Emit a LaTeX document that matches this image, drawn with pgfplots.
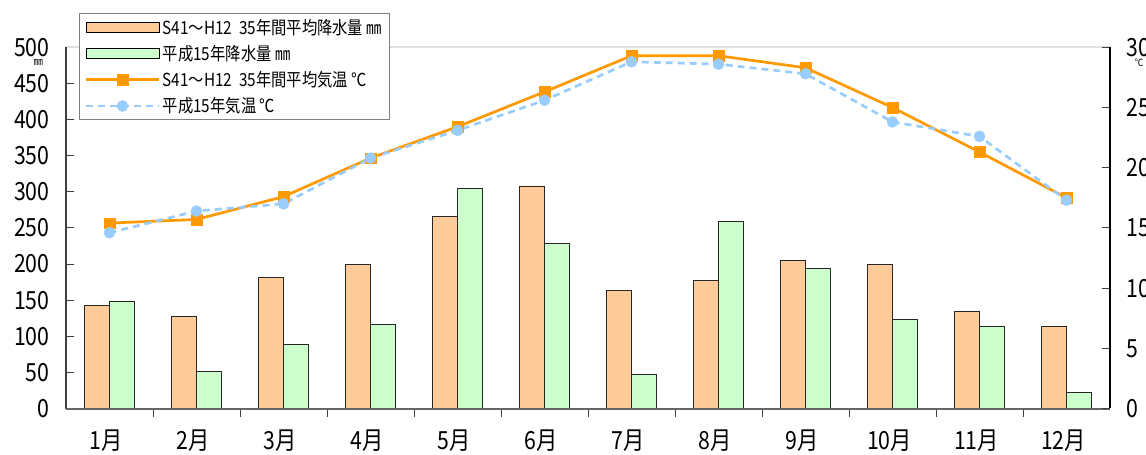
\documentclass[border=0pt]{standalone}
\usepackage{fontspec}
\setmainfont{Noto Sans CJK JP}[FakeStretch=0.85]
\usepackage{pgfplots}
\pgfplotsset{compat=1.18}
\usepackage{pgfplotstable}
\definecolor{barO}{HTML}{FFCC99}
\definecolor{barG}{HTML}{CCFFCC}
\definecolor{lineO}{HTML}{FF9900}
\definecolor{lineB}{HTML}{99CCFF}

\pgfplotstableread{
m rainA rainB tempA tempB
0 142 148 15.4 14.6
1 127 51 15.7 16.4
2 182 89 17.6 17.0
3 200 117 20.8 20.8
4 266 304 23.4 23.1
5 308 228 26.3 25.6
6 164 47 29.3 28.8
7 177 259 29.3 28.6
8 205 194 28.3 27.8
9 200 123 25.0 23.8
10 135 114 21.3 22.6
11 113 22 17.5 17.3
}\data

\begin{document}
\begin{tikzpicture}
\pgfplotsset{
  common/.style={
    scale only axis, width=1044pt, height=361.2pt,
    xmin=-0.5, xmax=11.5,
    clip=false,
    axis line style={draw=none},
    tick align=inside,
    major tick length=8pt, minor tick length=8pt,
    tick style={draw=black!75, line width=1pt},
    ticklabel style={font=\fontsize{25}{25}\selectfont},
    /pgf/number format/assume math mode=true,
  },
  barlegend/.style={legend image code/.code={\draw[##1] (0pt,-5pt) rectangle (73pt,5pt);}},
  linelegend/.style={legend image code/.code={\draw[mark repeat=2,mark phase=2,##1] plot coordinates {(0pt,0pt) (36.5pt,0pt) (73pt,0pt)};}},
}
\begin{axis}[common,
  ymin=0, ymax=500, ytick={0,50,...,500},
  ytick pos=left, xtick pos=bottom,
  yticklabel shift=13pt,
  xtick={0,...,11},
  xticklabels={1月,2月,3月,4月,5月,6月,7月,8月,9月,10月,11月,12月},
  xticklabel shift=10pt,
  xticklabel style={xshift=-3pt},
  every major x tick/.append style={draw=none},
  minor xtick={0.5,1.5,...,10.5},
  ybar=0pt, bar width=24.6pt,
]
\addplot[fill=barO, draw=black!85, line width=0.9pt] table[x=m, y=rainA] {\data};
\addplot[fill=barG, draw=black!85, line width=0.9pt] table[x=m, y=rainB] {\data};
\draw[black!12, line width=2pt] (rel axis cs:0,1) -- (rel axis cs:1,1);
\draw[black!75, line width=1.5pt] (rel axis cs:0,0) -- (rel axis cs:0,1);
\draw[black!60, line width=2pt] (rel axis cs:0,0) -- (rel axis cs:1,0);
\node[font=\fontsize{11}{11}\selectfont, inner sep=0pt] at ([xshift=-27.7pt,yshift=-15pt]rel axis cs:0,1) {㎜};
\coordinate (O) at (rel axis cs:0,0);
\end{axis}
\begin{axis}[common,
  ymin=0, ymax=30, ytick={0,5,...,30},
  ytick pos=right, xtick=\empty,
  yticklabel shift=13pt,
  legend cell align=left,
  legend style={at={(rel axis cs:0.0125,1.095)}, anchor=north west,
    draw=black!50, line width=1.2pt, fill=white,
    font=\fontsize{18}{18}\selectfont,
    inner xsep=5pt, inner ysep=3pt, row sep=4.5pt,
    nodes={inner sep=2.5pt}},
]
\addlegendimage{barlegend, fill=barO, draw=black, line width=0.9pt}
\addlegendentry{S41～H12\ \ 35年間平均降水量 ㎜}
\addlegendimage{barlegend, fill=barG, draw=black, line width=0.9pt}
\addlegendentry{平成15年降水量 ㎜}
\addplot[linelegend, lineO, line width=2.7pt, mark=square*, mark size=5.3pt,
  mark options={solid, fill=lineO, draw=lineO, line width=0.5pt}]
  table[x=m, y=tempA] {\data};
\addlegendentry{S41～H12\ \ 35年間平均気温 ℃}
\addplot[linelegend, lineB, line width=2.7pt, dash pattern=on 7pt off 5pt, mark=*, mark size=5.5pt,
  mark options={solid, fill=lineB, draw=lineB, line width=0.5pt}]
  table[x=m, y=tempB] {\data};
\addlegendentry{平成15年気温 ℃}
\draw[black, line width=1.5pt] (rel axis cs:1,0) -- (rel axis cs:1,1);
\node[font=\fontsize{10}{10}\selectfont, inner sep=0pt] at ([xshift=29pt,yshift=-15pt]rel axis cs:1,1) {℃};
\end{axis}
\pgfresetboundingbox
\path[use as bounding box] ([xshift=-66pt,yshift=-46.5pt]O) rectangle ++(1146pt,455pt);
\end{tikzpicture}
\end{document}
